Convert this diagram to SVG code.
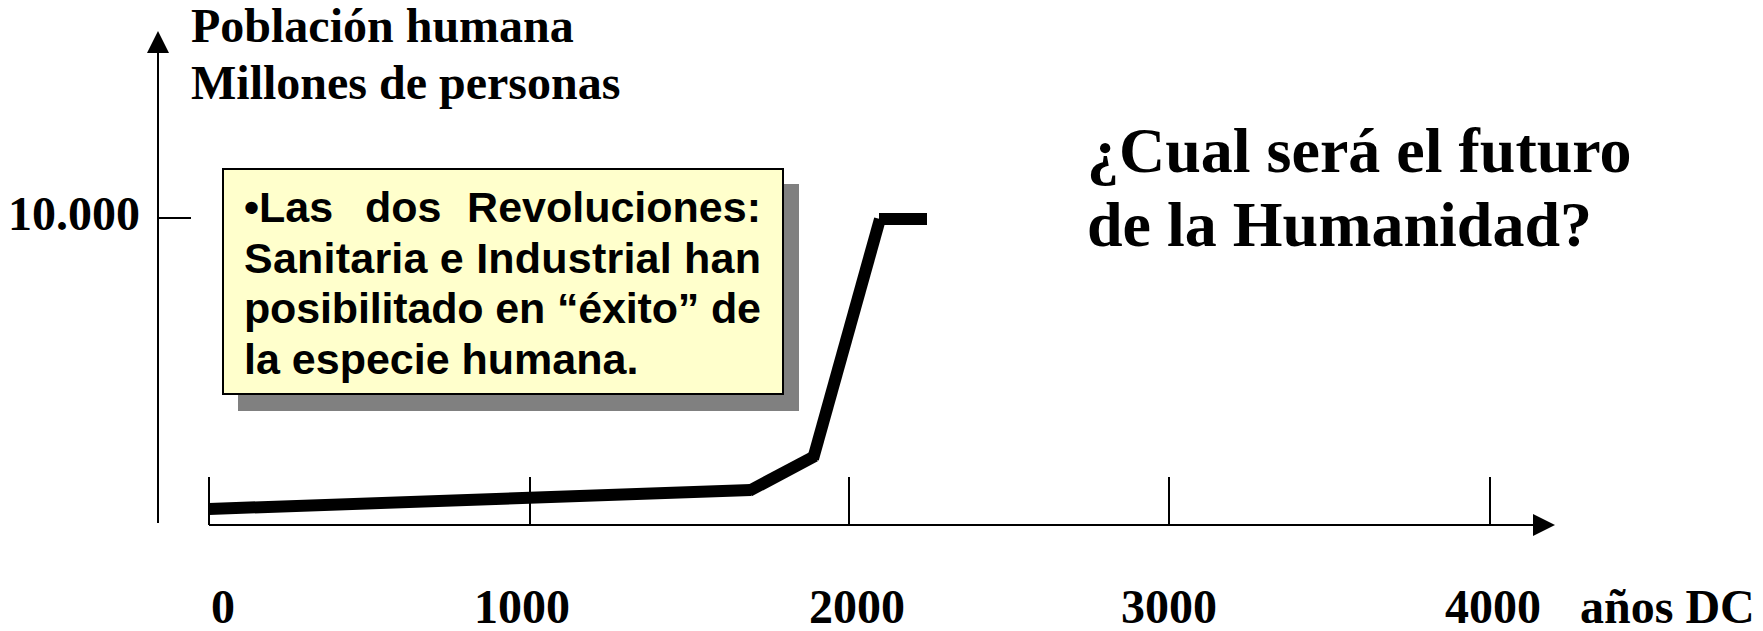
<svg xmlns="http://www.w3.org/2000/svg" width="1763" height="631" viewBox="0 0 1763 631">
<style>
.serif{font-family:"Liberation Serif","Times New Roman",serif;font-weight:bold;fill:#000}
.sans{font-family:"Liberation Sans",Arial,sans-serif;font-weight:bold;fill:#000;font-size:43px}
.axis{stroke:#000;stroke-width:2;fill:none}
.curve{stroke:#000;stroke-width:12;stroke-linecap:butt;fill:none}
</style>
<defs>
<marker id="arr" markerUnits="userSpaceOnUse" markerWidth="22" markerHeight="22" refX="0" refY="10" orient="auto" viewBox="0 0 20 20">
<path d="M0,0 L20,10 L0,20 z" fill="#000"/>
</marker>
</defs>
<rect width="1763" height="631" fill="#fff"/>
<g id="connectors">
<line class="axis" x1="158" y1="523" x2="158" y2="53" marker-end="url(#arr)"/>
<line class="axis" x1="209" y1="525" x2="1533" y2="525" marker-end="url(#arr)"/>
<line class="axis" x1="158" y1="218" x2="191" y2="218"/>
<line class="axis" x1="209" y1="477" x2="209" y2="525"/>
<line class="axis" x1="530" y1="477" x2="530" y2="525"/>
<line class="axis" x1="849" y1="477" x2="849" y2="525"/>
<line class="axis" x1="1169" y1="477" x2="1169" y2="525"/>
<line class="axis" x1="1490" y1="477" x2="1490" y2="525"/>
</g>
<g id="curve">
<line class="curve" x1="209" y1="509" x2="751" y2="490"/>
<line class="curve" x1="749" y1="491" x2="815" y2="456"/>
<line class="curve" x1="813" y1="459" x2="880" y2="219"/>
<line class="curve" x1="879" y1="219" x2="927" y2="219"/>
</g>
<g id="ylabel">
<text class="serif" font-size="48" x="191" y="42">Población humana</text>
<text class="serif" font-size="48" x="191" y="99">Millones de personas</text>
<text class="serif" font-size="48" x="8" y="230">10.000</text>
</g>
<g id="note">
<rect x="238" y="184" width="561" height="227" fill="#808080"/>
<rect x="223" y="169" width="560" height="225" fill="#FFFFCC" stroke="#000" stroke-width="2"/>
<text class="sans" x="244" y="222">•Las</text>
<text class="sans" x="365" y="222">dos</text>
<text class="sans" x="761" y="222" text-anchor="end">Revoluciones:</text>
<text class="sans" x="244" y="273" textLength="517" lengthAdjust="spacing">Sanitaria e Industrial han</text>
<text class="sans" x="244" y="323" textLength="517" lengthAdjust="spacing">posibilitado en “éxito” de</text>
<text class="sans" x="244" y="374">la especie humana.</text>
</g>
<g id="question">
<text class="serif" font-size="64" x="1087" y="172">¿Cual será el futuro</text>
<text class="serif" font-size="64" x="1087" y="246">de la Humanidad?</text>
</g>
<g id="xlabels">
<text class="serif" font-size="48" x="211" y="623">0</text>
<text class="serif" font-size="48" x="522" y="623" text-anchor="middle">1000</text>
<text class="serif" font-size="48" x="857" y="623" text-anchor="middle">2000</text>
<text class="serif" font-size="48" x="1169" y="623" text-anchor="middle">3000</text>
<text class="serif" font-size="48" x="1493" y="623" text-anchor="middle">4000</text>
<text class="serif" font-size="48" x="1580" y="623">años DC</text>
</g>
</svg>
